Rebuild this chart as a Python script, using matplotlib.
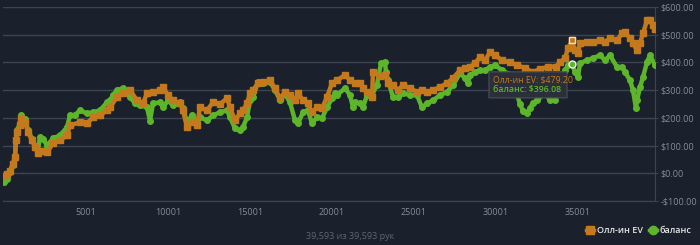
import matplotlib.pyplot as plt
from matplotlib.lines import Line2D
from matplotlib.patches import FancyBboxPatch

plt.rcParams['font.family'] = ['Open Sans', 'DejaVu Sans']

# x positions in pixels, converted to hand numbers below
ev_px = [4, 7, 10, 13, 15, 16, 17, 20, 21, 25, 28, 32, 35, 38, 42, 47, 53, 60, 67, 70,
         80, 87, 93, 100, 107, 110, 117, 123, 130, 137, 143, 147, 153, 160, 163, 168, 173,
         180, 183, 187, 192, 197, 200, 207, 213, 220, 227, 230, 235, 240, 243, 247, 250,
         253, 258, 263, 270, 275, 280, 285, 290, 295, 298, 303, 308, 312, 317, 322, 327,
         332, 337, 345, 350, 355, 360, 363, 367, 372, 373, 380, 385, 388, 393, 398, 403,
         410, 417, 422, 427, 433, 440, 447, 453, 460, 465, 470, 475, 480, 485, 490, 495,
         502, 510, 517, 525, 532, 540, 548, 556, 560, 565, 568, 572, 575, 578, 580, 587,
         593, 600, 605, 610, 617, 622, 625, 630, 633, 637, 640, 643, 647, 650, 653, 655]
ev_val = [-8, -2, 10, 35, 60, 120, 148, 173, 198, 184, 148, 120, 94, 72, 80, 76, 108, 119,
          137, 173, 184, 180, 202, 209, 227, 238, 275, 289, 300, 263, 252, 289, 293, 300,
          311, 282, 263, 252, 227, 166, 184, 173, 238, 227, 256, 250, 270, 238, 191, 216,
          227, 252, 289, 300, 325, 329, 336, 307, 270, 293, 282, 263, 289, 263, 252, 220,
          238, 234, 275, 325, 336, 354, 336, 325, 325, 307, 293, 275, 365, 350, 355, 325,
          318, 300, 318, 307, 293, 300, 293, 300, 311, 325, 343, 372, 379, 383, 397, 419,
          408, 437, 426, 408, 400, 390, 380, 365, 375, 385, 385, 401, 415, 451, 479.20, 444,
          433, 469, 473, 473, 480, 473, 487, 480, 505, 509, 487, 469, 444, 469, 505, 552,
          552, 534, 520]

bal_px = [4, 7, 10, 13, 15, 16, 17, 20, 21, 25, 28, 32, 35, 38, 40, 43, 47, 53, 60, 67,
          70, 75, 80, 87, 93, 100, 107, 110, 113, 117, 123, 130, 135, 140, 147, 150, 153,
          160, 163, 168, 173, 180, 183, 187, 192, 197, 200, 207, 213, 220, 227, 230, 235,
          240, 243, 247, 250, 253, 258, 263, 270, 275, 280, 285, 290, 295, 298, 303, 308,
          312, 317, 322, 327, 332, 335, 337, 345, 350, 353, 355, 360, 363, 367, 372, 377,
          381, 385, 386, 388, 393, 398, 403, 410, 417, 422, 427, 433, 440, 447, 453, 460,
          465, 468, 470, 475, 480, 485, 490, 495, 502, 508, 513, 520, 523, 527, 530, 533,
          537, 545, 550, 555, 560, 565, 568, 572, 575, 578, 580, 587, 593, 600, 605, 610,
          617, 622, 625, 630, 633, 636, 637, 640, 643, 647, 650, 655]
bal_val = [-30, -22, 5, 30, 55, 125, 155, 180, 210, 195, 155, 125, 100, 85, 130, 125, 100,
           126, 137, 166, 209, 210, 227, 216, 220, 227, 256, 263, 282, 300, 307, 275, 252,
           245, 238, 190, 252, 256, 238, 263, 245, 256, 234, 184, 209, 184, 202, 191, 209,
           220, 227, 202, 162, 155, 166, 202, 263, 275, 329, 325, 330, 300, 265, 285, 256,
           191, 180, 220, 227, 180, 202, 198, 238, 270, 289, 282, 307, 282, 238, 256, 252,
           238, 282, 282, 320, 397, 400, 365, 336, 275, 275, 289, 282, 282, 238, 252, 263,
           282, 293, 318, 361, 343, 325, 354, 365, 372, 372, 383, 390, 372, 360, 330, 250,
           225, 218, 235, 255, 263, 290, 263, 263, 336, 372, 390, 396.08, 365, 347, 397, 408,
           415, 426, 408, 426, 383, 383, 365, 336, 300, 234, 263, 311, 347, 401, 426, 390]

x_ticks = [5001, 10001, 15001, 20001, 25001, 30001, 35001]
y_ticks = [-100, 0, 100, 200, 300, 400, 500, 600]
hover_px = 572


def px_to_hand(p):
    return (p - 4) * 5000 / 82 + 1


ev_x = [px_to_hand(p) for p in ev_px]
bal_x = [px_to_hand(p) for p in bal_px]
hover_x = px_to_hand(hover_px)

bg = '#1b212c'
orange = '#c47a1c'
green = '#5db52a'

fig = plt.figure(figsize=(7, 2.45), dpi=100, facecolor=bg)
ax = fig.add_axes([3 / 700, 1 - 201 / 245, 652 / 700, 194 / 245])
ax.set_facecolor(bg)

ax.plot(bal_x, bal_val, color=green, lw=3.2, marker='o', ms=4, mec=green, zorder=3)
ax.plot(ev_x, ev_val, color=orange, lw=3.2, marker='s', ms=3.8, mec=orange, zorder=4)

# hover markers
ax.plot([hover_x], [479.20], marker='s', ms=5, color=orange, mec='#f0e0c8', mew=1, zorder=6)
ax.plot([hover_x], [396.08], marker='o', ms=5, color=green, mec='#f0f0f0', mew=1, zorder=6)

ax.set_xlim(px_to_hand(3), px_to_hand(655))
ax.set_ylim(-100, 600)
ax.set_xticks(x_ticks)
ax.set_xticklabels([str(t) for t in x_ticks])
ax.set_yticks(y_ticks)
ax.set_yticklabels([f'-${-v:.2f}' if v < 0 else f'${v:.2f}' for v in y_ticks])
ax.yaxis.tick_right()
ax.tick_params(colors='#868d98', labelsize=6.5, length=0, pad=5)
ax.tick_params(axis='y', length=2, color='#3c4452', pad=2)
ax.grid(axis='y', color='#3c4452', lw=1)
for side in ['top', 'left']:
    ax.spines[side].set_visible(False)
ax.spines['right'].set_color('#3c4452')
ax.spines['bottom'].set_color('#3c4452')

# tooltip
box = FancyBboxPatch((px_to_hand(489), 272), px_to_hand(567) - px_to_hand(489), 94,
                     boxstyle='round,pad=0,rounding_size=0', fc='#2a2f39', ec='#4a505c',
                     lw=0.8, zorder=7)
ax.add_patch(box)
ax.text(px_to_hand(493), 336, 'Олл-ин EV: $479.20', color=orange, fontsize=6.3,
        va='center', ha='left', zorder=8)
ax.text(px_to_hand(493), 302, 'баланс: $396.08', color=green, fontsize=6.3,
        va='center', ha='left', zorder=8, fontweight='semibold')

handles = [
    Line2D([], [], color=orange, marker='s', ms=6, lw=2.5),
    Line2D([], [], color=green, marker='o', ms=6, lw=2.5),
]
fig.legend(handles, ['Олл-ин EV', 'баланс'], loc='center right', bbox_to_anchor=(1.0, 0.06),
           ncol=2, frameon=False, labelcolor='#e4e6ea', handlelength=0.9,
           handletextpad=0.35, columnspacing=0.6, prop={'weight': 'semibold', 'size': 6.5})

fig.text(0.5, 0.035, '39,593 из 39,593 рук', color='#5f6673', fontsize=6.5, ha='center', va='center')

fig.savefig('out.png', dpi=100, facecolor=bg)
